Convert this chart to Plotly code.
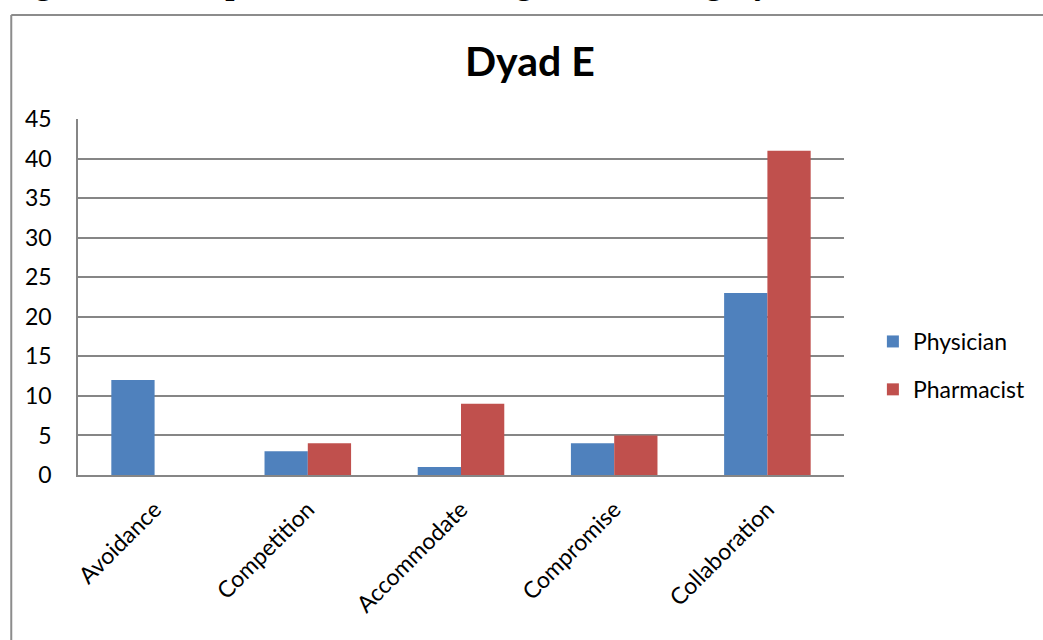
import plotly.graph_objects as go

categories = ["Avoidance", "Competition", "Accommodate", "Compromise", "Collaboration"]
physician = [12, 3, 1, 4, 23]
pharmacist = [0, 4, 9, 5, 41]

W, H = 1043, 640
L, R, T, B = 78, 847, 119, 475  # plot area in pixels


def px_x(x):
    return (x - L) / (R - L)


def px_y(y):
    return (B - y) / (B - T)


fig = go.Figure()
fig.add_trace(go.Bar(name="Physician", x=categories, y=physician,
                     marker=dict(color="#4F81BD", line=dict(width=0)),
                     legendgroup="a"))
fig.add_trace(go.Bar(name="Pharmacist", x=categories, y=pharmacist,
                     marker=dict(color="#C0504D", line=dict(width=0)),
                     legendgroup="b"))

fig.update_layout(
    width=W, height=H,
    margin=dict(l=L, r=W - R, t=T, b=H - B, pad=0),
    paper_bgcolor="white", plot_bgcolor="white",
    barmode="group", bargap=0.435, bargroupgap=0,
    font=dict(family="Lato, 'Open Sans', sans-serif", size=22, color="black"),
    showlegend=True,
    legend=dict(x=px_x(876), y=px_y(320), xanchor="left", yanchor="top",
                font=dict(size=23), tracegroupgap=15, itemwidth=30,
                bgcolor="rgba(0,0,0,0)"),
    xaxis=dict(showgrid=False, showline=True, linecolor="#868686", linewidth=2,
               tickangle=-45, ticks="", tickfont=dict(size=23), ticklabelstandoff=10),
    yaxis=dict(range=[0, 45], dtick=5, showgrid=True, gridcolor="#868686", gridwidth=1.5,
               showline=True, linecolor="#868686", linewidth=1.5, ticks="",
               zeroline=False, tickfont=dict(size=23), ticklabelstandoff=20),
)

fig.add_annotation(text="<b>Dyad E</b>", xref="paper", yref="paper",
                   x=px_x(532), y=px_y(60), xanchor="center", yanchor="middle",
                   showarrow=False, font=dict(size=41, family="Lato, sans-serif", color="black"))

# figure caption above the chart frame
fig.add_annotation(text="<b>Figure 3: Example of Conflict Management during Dyad Interview</b>",
                   xref="paper", yref="paper", x=px_x(4), y=px_y(3),
                   xanchor="left", yanchor="bottom", showarrow=False,
                   font=dict(size=33, family="Liberation Serif, serif", color="black"))

# chart frame
fig.add_shape(type="line", xref="paper", yref="paper",
              x0=px_x(11), x1=px_x(1100), y0=px_y(15), y1=px_y(15),
              line=dict(color="#8c8c8c", width=2))
fig.add_shape(type="line", xref="paper", yref="paper",
              x0=px_x(11), x1=px_x(11), y0=px_y(15), y1=px_y(700),
              line=dict(color="#8c8c8c", width=2))

fig.write_html("out.html")
